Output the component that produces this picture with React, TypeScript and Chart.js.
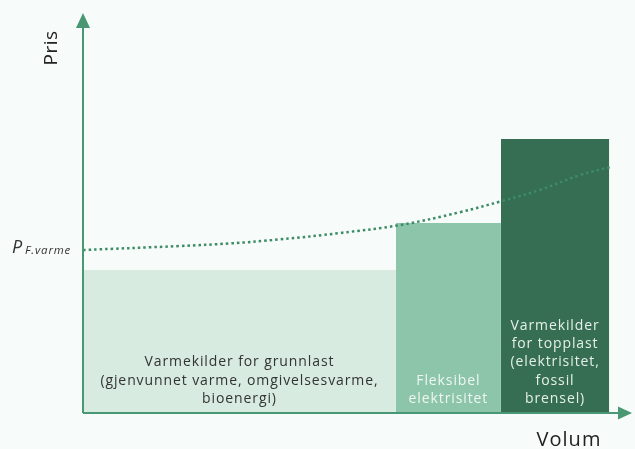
import React, { useEffect, useRef } from "react";
import { Chart, registerables } from "chart.js";

Chart.register(...registerables);

// Volume boundaries (x) and price levels (y), in arbitrary units
const barStarts = [0, 57.2, 76.4];
const barEnds = [57.2, 76.4, 96.2];
const barHeights = [35.75, 47.5, 68.5];
const barColors = ["#d7ebe0", "#8cc5a9", "#356e53"];
const barTextColors = ["#333333", "#eef7f2", "#e6efe9"];
const barLabels = [
  ["Varmekilder for grunnlast", "(gjenvunnet varme, omgivelsesvarme,", "bioenergi)"],
  ["Fleksibel", "elektrisitet"],
  ["Varmekilder", "for topplast", "(elektrisitet,", "fossil", "brensel)"],
];

const curveX = [0, 17.7, 26.9, 36.0, 47.0, 58.0, 68.9, 76.6, 83.5, 90.9, 96.4];
const curveY = [40.75, 41.75, 42.4, 43.4, 45.0, 47.0, 50.2, 53.0, 55.75, 59.5, 61.5];

const yAxisTitle = "Pris";
const xAxisTitle = "Volum";
const priceLabelMain = "P";
const priceLabelSub = "F.varme";

const FONT = "'Open Sans', sans-serif";
const AXIS_COLOR = "#4a9873";

const overlayPlugin = {
  id: "overlay",
  afterDatasetsDraw(chart: any) {
    const ctx = chart.ctx as CanvasRenderingContext2D;
    const xs = chart.scales.x;
    const ys = chart.scales.y;
    const x0 = xs.getPixelForValue(0);
    const y0 = ys.getPixelForValue(0);
    const xEnd = xs.getPixelForValue(100);
    const yTop = ys.getPixelForValue(100);

    ctx.save();
    // bar labels
    barLabels.forEach((lines, i) => {
      const cx = (xs.getPixelForValue(barStarts[i]) + xs.getPixelForValue(barEnds[i])) / 2;
      const lineH = 18.3;
      const lastY = y0 - 14;
      ctx.fillStyle = barTextColors[i];
      ctx.font = `14px ${FONT}`;
      (ctx as any).letterSpacing = "0.9px";
      ctx.textAlign = "center";
      ctx.textBaseline = "middle";
      lines.forEach((t, j) => {
        ctx.fillText(t, cx, lastY - (lines.length - 1 - j) * lineH);
      });
    });
    (ctx as any).letterSpacing = "0px";

    // axes
    ctx.strokeStyle = AXIS_COLOR;
    ctx.fillStyle = AXIS_COLOR;
    ctx.lineWidth = 2;
    ctx.beginPath();
    ctx.moveTo(x0, y0);
    ctx.lineTo(xEnd - 10, y0);
    ctx.moveTo(x0, y0);
    ctx.lineTo(x0, yTop + 12);
    ctx.stroke();
    ctx.beginPath();
    ctx.moveTo(xEnd + 2, y0);
    ctx.lineTo(xEnd - 12, y0 - 6.5);
    ctx.lineTo(xEnd - 12, y0 + 6.5);
    ctx.closePath();
    ctx.fill();
    ctx.beginPath();
    ctx.moveTo(x0, yTop);
    ctx.lineTo(x0 - 7, yTop + 15);
    ctx.lineTo(x0 + 7, yTop + 15);
    ctx.closePath();
    ctx.fill();

    // axis titles
    ctx.fillStyle = "#222222";
    ctx.font = `19px ${FONT}`;
    (ctx as any).letterSpacing = "0.5px";
    ctx.textAlign = "center";
    ctx.textBaseline = "middle";
    ctx.save();
    ctx.translate(52, 48);
    ctx.rotate(-Math.PI / 2);
    ctx.fillText(yAxisTitle, 0, 0);
    ctx.restore();
    ctx.font = `20px ${FONT}`;
    (ctx as any).letterSpacing = "1px";
    ctx.fillText(xAxisTitle, 569, 440);

    // price label
    const py = ys.getPixelForValue(curveY[0]);
    ctx.textAlign = "left";
    ctx.textBaseline = "alphabetic";
    ctx.fillStyle = "#333333";
    (ctx as any).letterSpacing = "0px";
    ctx.font = `italic 18px ${FONT}`;
    ctx.fillText(priceLabelMain, 12, py + 3);
    ctx.font = `italic 11.5px ${FONT}`;
    (ctx as any).letterSpacing = "0.8px";
    ctx.fillText(priceLabelSub, 25, py + 4);
    (ctx as any).letterSpacing = "0px";
    ctx.restore();
  },
};

export default function App() {
  const ref = useRef<HTMLCanvasElement | null>(null);
  useEffect(() => {
    if (!ref.current) return;
    const barSets = barHeights.map((h, i) => ({
      type: "line" as const,
      data: [
        { x: barStarts[i], y: h },
        { x: barEnds[i], y: h },
      ],
      backgroundColor: barColors[i],
      borderColor: barColors[i],
      borderWidth: 0,
      pointRadius: 0,
      fill: "origin",
      order: 2,
    }));
    const chart = new Chart(ref.current, {
      type: "line",
      data: {
        datasets: [
          ...barSets,
          {
            data: curveX.map((x, i) => ({ x, y: curveY[i] })),
            borderColor: "#3d8c66",
            borderWidth: 2.5,
            borderDash: [2.5, 3],
            pointRadius: 0,
            tension: 0.4,
            fill: false,
            order: 1,
          },
        ],
      } as any,
      options: {
        animation: false,
        responsive: false,
        maintainAspectRatio: false,
        layout: { padding: { left: 83, right: 5, top: 13, bottom: 36 } },
        plugins: { legend: { display: false }, tooltip: { enabled: false } },
        scales: {
          x: { type: "linear", min: 0, max: 100, display: false },
          y: { type: "linear", min: 0, max: 100, display: false },
        },
      },
      plugins: [overlayPlugin],
    });
    return () => chart.destroy();
  }, []);
  return (
    <div style={{ position: "fixed", left: 0, top: 0, width: 635, height: 449, background: "#f7fbf9" }}>
      <canvas ref={ref} width={635} height={449} style={{ width: 635, height: 449, display: "block" }} />
    </div>
  );
}
